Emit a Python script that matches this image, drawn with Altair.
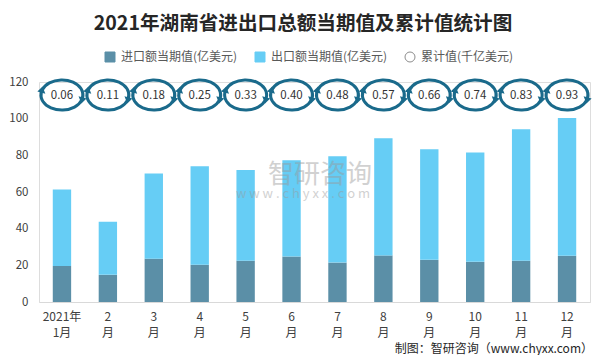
import altair as alt
import pandas as pd

months = ["2021年1月", "2月", "3月", "4月", "5月", "6月", "7月", "8月", "9月", "10月", "11月", "12月"]
import_vals = [19.7, 14.8, 23.6, 20.3, 22.5, 24.8, 21.5, 25.4, 23.0, 21.9, 22.5, 25.2]
export_vals = [41.7, 29.0, 46.5, 53.7, 49.5, 52.5, 58.0, 63.9, 60.3, 59.7, 71.7, 75.1]
cum_vals = [0.06, 0.11, 0.18, 0.25, 0.33, 0.40, 0.48, 0.57, 0.66, 0.74, 0.83, 0.93]

S_IMP = "进口额当期值(亿美元)"
S_EXP = "出口额当期值(亿美元)"
S_CUM = "累计值(千亿美元)"
series = [S_IMP, S_EXP, S_CUM]
TITLE = "2021年湖南省进出口总额当期值及累计值统计图"
FOOTER = "制图：智研咨询（www.chyxx.com）"

FONT = "Noto Sans CJK SC"
C_IMP = "#5b8fa7"
C_EXP = "#66cdf5"
C_RING = "#1a6a8b"

rows = []
for m, v in zip(months, import_vals):
    rows.append({"month": m, "series": S_IMP, "value": v, "ord": 0})
for m, v in zip(months, export_vals):
    rows.append({"month": m, "series": S_EXP, "value": v, "ord": 1})
long_df = pd.DataFrame(rows)
cum_df = pd.DataFrame({"month": months, "cum": cum_vals})
leg_df = pd.DataFrame({"series": series})

W, H = 551, 220

x_enc = alt.X(
    "month:N", sort=months, title=None,
    scale=alt.Scale(paddingInner=0.6, paddingOuter=0.3),
    axis=alt.Axis(
        labelAngle=0, ticks=False, labelPadding=9, labelFontSize=12, labelFont=FONT,
        labelColor="#404040", domainColor="#d9d9d9", labelLineHeight=16,
        labelExpr="datum.value == '2021年1月' ? ['2021年', '1月'] : [slice(datum.value, 0, -1), '月']",
    ),
)

bars = alt.Chart(long_df).mark_bar().encode(
    x=x_enc,
    y=alt.Y(
        "value:Q", stack="zero", title=None,
        scale=alt.Scale(domain=[0, 120], nice=False),
        axis=alt.Axis(values=[0, 20, 40, 60, 80, 100, 120], grid=False, domain=False, ticks=False,
                      labelPadding=11, labelFontSize=11.5, labelColor="#404040"),
    ),
    color=alt.Color("series:N", scale=alt.Scale(domain=[S_IMP, S_EXP], range=[C_IMP, C_EXP]), legend=None),
    order=alt.Order("ord:Q"),
)

leg = alt.Legend(
    orient="none", legendX=65, legendY=-31, direction="horizontal", title=None,
    labelFontSize=12, labelFont=FONT, labelColor="#595959",
    columnPadding=15, labelOffset=5, padding=0, symbolStrokeWidth=1,
)
legend_layer = alt.Chart(leg_df).mark_point(filled=True, opacity=1, size=50).encode(
    x=alt.value(0), y=alt.value(-3000),
    fill=alt.Fill("series:N", sort=series, scale=alt.Scale(domain=series, range=[C_IMP, C_EXP, "#ffffff"]), legend=leg),
    stroke=alt.Stroke("series:N", sort=series, scale=alt.Scale(domain=series, range=[C_IMP, C_EXP, "#8c8c8c"]), legend=leg),
    shape=alt.Shape("series:N", sort=series, scale=alt.Scale(domain=series, range=["square", "square", "circle"]), legend=leg),
)

ARC_PATH = ("M -0.966 0.186 A 1 0.72 0 1 1 0.985 0.125 "
            "M 0.966 -0.186 A 1 0.72 0 1 1 -0.985 -0.125")
ARROW_PATH = ("M 0.925 0.40 L 1.17 0.17 L 0.79 0.06 Z "
              "M -0.925 -0.40 L -1.17 -0.17 L -0.79 -0.06 Z")

ring_x = alt.X("month:N", sort=months)
rings = alt.Chart(cum_df).mark_point(
    shape=ARC_PATH, size=1764, filled=False, strokeWidth=3, color=C_RING, opacity=1
).encode(x=ring_x, y=alt.value(13))
arrows = alt.Chart(cum_df).mark_point(
    shape=ARROW_PATH, size=1764, filled=True, strokeWidth=0, color=C_RING, opacity=1
).encode(x=ring_x, y=alt.value(13))
ring_text = alt.Chart(cum_df).mark_text(
    fontSize=11.5, font=FONT, color="#333333", baseline="middle"
).encode(x=ring_x, y=alt.value(14), text=alt.Text("cum:Q", format=".2f"))

wm_df = pd.DataFrame({"a": ["智研咨询"], "b": ["w w w . c h y x x . c o m"]})
wm1 = alt.Chart(wm_df).mark_text(
    fontSize=26, font=FONT, color="#9a9a9a", opacity=0.45, baseline="middle"
).encode(x=alt.value(281), y=alt.value(93), text="a:N")
wm2 = alt.Chart(wm_df).mark_text(
    fontSize=13, font=FONT, color="#9a9a9a", opacity=0.45, baseline="middle"
).encode(x=alt.value(264), y=alt.value(112), text="b:N")

foot_df = pd.DataFrame({"t": [FOOTER]})
footer = alt.Chart(foot_df).mark_text(
    fontSize=12, font=FONT, color="#262626", align="right", baseline="middle"
).encode(x=alt.value(554), y=alt.value(267), text="t:N")

title_df = pd.DataFrame({"t": [TITLE]})
title = alt.Chart(title_df).mark_text(
    fontSize=19.6, font=FONT, fontWeight="bold", color="#262626", align="center", baseline="middle"
).encode(x=alt.value(264), y=alt.value(-58), text="t:N")

chart = alt.layer(bars, legend_layer, rings, arrows, ring_text, wm1, wm2, footer, title).resolve_scale(
    color="independent"
).properties(
    width=W, height=H,
    padding={"left": 31, "top": 74, "right": 8, "bottom": 53},
    autosize=alt.AutoSizeParams(type="none"),
).configure_view(stroke=None).configure(font=FONT)

chart.save("out.html", embed_options={"renderer": "svg", "actions": False})
